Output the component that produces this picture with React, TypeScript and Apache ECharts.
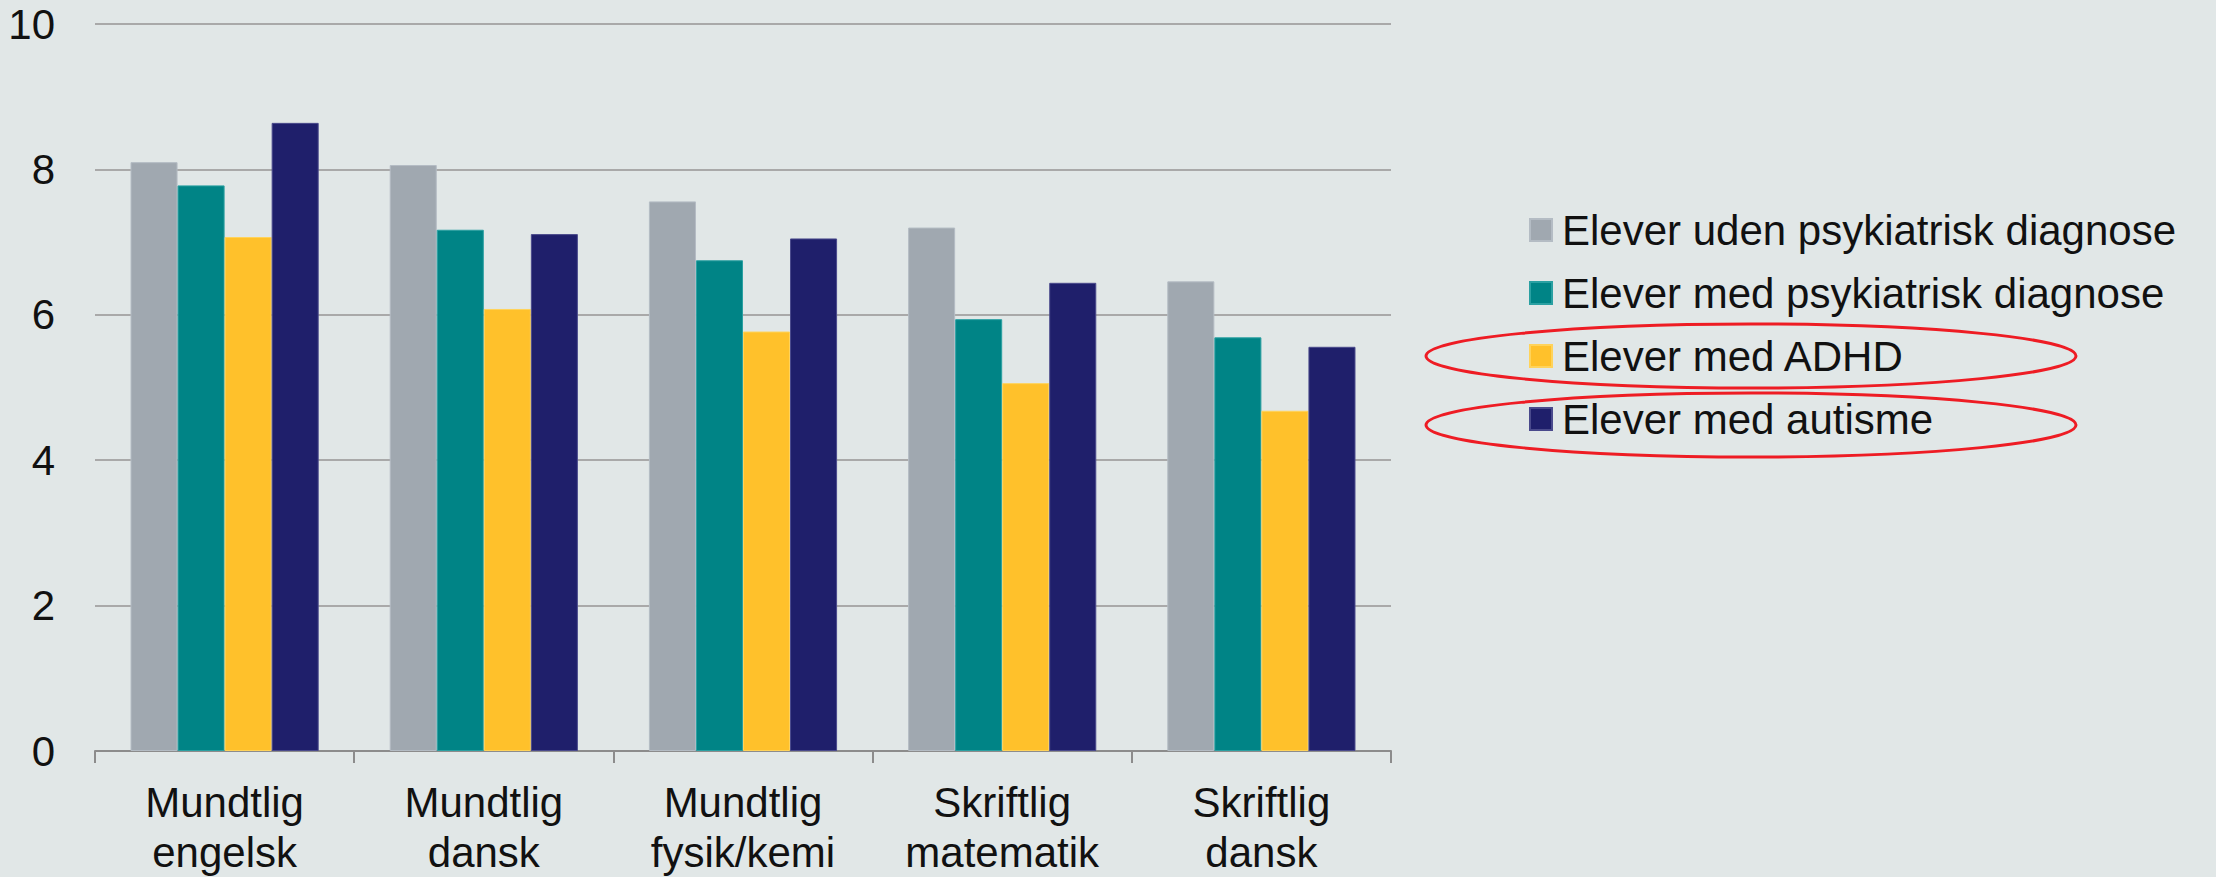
import React, { useEffect, useRef } from "react";
import * as echarts from "echarts";

const categories = [
  "Mundtlig\nengelsk",
  "Mundtlig\ndansk",
  "Mundtlig\nfysik/kemi",
  "Skriftlig\nmatematik",
  "Skriftlig\ndansk",
];
const seriesNames = [
  "Elever uden psykiatrisk diagnose",
  "Elever med psykiatrisk diagnose",
  "Elever med ADHD",
  "Elever med autisme",
];
const udenDiagnose = [8.1, 8.06, 7.56, 7.2, 6.46];
const medDiagnose = [7.78, 7.17, 6.75, 5.94, 5.69];
const medADHD = [7.07, 6.08, 5.77, 5.06, 4.68];
const medAutisme = [8.64, 7.11, 7.05, 6.44, 5.56];
const colors = ["#a0a8b0", "#008486", "#ffc12b", "#1f1f6b"];
const borders = ["#b4bcc4", "#2aa0a2", "#ffd35a", "#4a4a8c"];
const yTicks = [0, 2, 4, 6, 8, 10];

export default function App() {
  const ref = useRef<HTMLDivElement>(null);
  useEffect(() => {
    document.body.style.margin = "0";
    document.body.style.background = "#e1e7e7";
    if (!ref.current) return;
    const chart = echarts.init(ref.current, null, { renderer: "svg" });
    const data = [udenDiagnose, medDiagnose, medADHD, medAutisme];
    const font = "'Liberation Sans', Arial, sans-serif";
    chart.setOption({
      animation: false,
      backgroundColor: "#e1e7e7",
      textStyle: { fontFamily: font },
      grid: { left: 95, right: 825, top: 24, bottom: 125, containLabel: false },
      legend: {
        orient: "vertical",
        left: 1524,
        top: 204,
        icon: "rect",
        itemWidth: 22,
        itemHeight: 22,
        itemGap: 21,
        data: seriesNames,
        textStyle: {
          fontFamily: font,
          fontSize: 42,
          color: "#111",
          lineHeight: 42,
          padding: [0, 0, 0, 5],
        },
      },
      xAxis: {
        type: "category",
        data: categories,
        axisLine: { lineStyle: { color: "#8c8c8c", width: 2 } },
        axisTick: { show: true, length: 12, lineStyle: { color: "#8c8c8c", width: 2 } },
        axisLabel: {
          fontFamily: font,
          fontSize: 42,
          color: "#111",
          lineHeight: 50,
          margin: 26,
          interval: 0,
        },
      },
      yAxis: {
        type: "value",
        min: yTicks[0],
        max: yTicks[yTicks.length - 1],
        interval: 2,
        axisLine: { show: false },
        axisTick: { show: false },
        splitLine: { lineStyle: { color: "#a9a9a9", width: 2 } },
        axisLabel: {
          fontFamily: font,
          fontSize: 42,
          color: "#111",
          margin: 40,
        },
      },
      series: seriesNames.map((name, i) => ({
        name,
        type: "bar",
        data: data[i],
        barGap: "0%",
        barCategoryGap: "27.4%",
        itemStyle: { color: colors[i], borderColor: borders[i], borderWidth: 1 },
      })),
      graphic: [
        {
          type: "ellipse",
          shape: { cx: 1751, cy: 356, rx: 325, ry: 32 },
          style: { fill: "none", stroke: "#ee1c24", lineWidth: 3 },
        },
        {
          type: "ellipse",
          shape: { cx: 1751, cy: 425, rx: 325, ry: 32 },
          style: { fill: "none", stroke: "#ee1c24", lineWidth: 3 },
        },
      ],
    });
    return () => chart.dispose();
  }, []);
  return <div ref={ref} style={{ width: 2216, height: 877 }} />;
}
